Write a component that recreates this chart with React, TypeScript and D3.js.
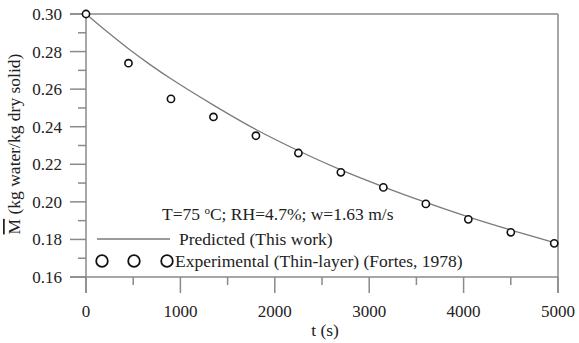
import React from "react";
import * as d3 from "d3";

const expTime = [0, 450, 900, 1350, 1800, 2250, 2700, 3150, 3600, 4050, 4500, 4960];
const expM = [0.3, 0.2738, 0.2548, 0.2452, 0.2352, 0.226, 0.2157, 0.2077, 0.1989, 0.1907, 0.1838, 0.1779];

const predTime = [0, 225, 450, 675, 900, 1350, 1800, 2250, 2700, 3150, 3600, 4050, 4500, 4960];
const predM = [0.3, 0.2905, 0.2815, 0.2732, 0.2655, 0.2515, 0.2385, 0.2272, 0.217, 0.208, 0.1997, 0.192, 0.185, 0.1783];

const xMajor = [0, 1000, 2000, 3000, 4000, 5000];
const xMinor = [500, 1500, 2500, 3500, 4500];
const yMajor = [0.16, 0.18, 0.2, 0.22, 0.24, 0.26, 0.28, 0.3];
const yMinor = [0.17, 0.19, 0.21, 0.23, 0.25, 0.27, 0.29];

const W = 579, H = 343;
const L = 86, R = 558, T = 14, B = 277;

export default function App() {
  const x = d3.scaleLinear().domain([0, 5000]).range([L, R]);
  const y = d3.scaleLinear().domain([0.16, 0.3]).range([B, T]);
  const line = d3.line<number>().x((_, i) => x(predTime[i])).y((d) => y(d)).curve(d3.curveCatmullRom);
  const axisCol = "#8a8a8a";
  const txt = "#222";
  const font = "'Liberation Serif', 'DejaVu Serif', serif";
  return (
    <svg width={W} height={H} style={{ position: "absolute", left: 0, top: 0, background: "#fff", fontFamily: font }}>
      <rect x={0} y={0} width={W} height={H} fill="#fff" />
      <line x1={L - 16} x2={R} y1={T} y2={T} stroke={axisCol} strokeWidth={1.5} />
      <line x1={L - 16} x2={R} y1={B} y2={B} stroke={axisCol} strokeWidth={1.5} />
      <line x1={L} x2={L} y1={T} y2={B + 16} stroke={axisCol} strokeWidth={1.5} />
      <line x1={R} x2={R} y1={T} y2={B + 16} stroke={axisCol} strokeWidth={1.5} />
      {yMajor.map((v) => (
        <g key={"ym" + v}>
          <line x1={L - 16} x2={L} y1={y(v)} y2={y(v)} stroke={axisCol} strokeWidth={1.5} />
          <text x={62} y={y(v) + 6} textAnchor="end" fontSize={17} fill={txt} fontFamily={font}>{v.toFixed(2)}</text>
        </g>
      ))}
      {yMinor.map((v) => (
        <line key={"yn" + v} x1={L - 8} x2={L} y1={y(v)} y2={y(v)} stroke={axisCol} strokeWidth={1.5} />
      ))}
      {xMajor.map((v) => (
        <g key={"xm" + v}>
          <line x1={x(v)} x2={x(v)} y1={B} y2={B + 16} stroke={axisCol} strokeWidth={1.5} />
          <text x={x(v)} y={317} textAnchor="middle" fontSize={17} fill={txt} fontFamily={font}>{v}</text>
        </g>
      ))}
      {xMinor.map((v) => (
        <line key={"xn" + v} x1={x(v)} x2={x(v)} y1={B} y2={B + 8} stroke={axisCol} strokeWidth={1.5} />
      ))}
      <text x={(L + R) / 2 + 3} y={336} textAnchor="middle" fontSize={17.5} fill={txt} fontFamily={font}>t (s)</text>
      <text transform={`translate(20,${144}) rotate(-90)`} textAnchor="middle" fontSize={17.5} fill={txt} fontFamily={font}>
        <tspan style={{ textDecoration: "overline" }}>M</tspan> (kg water/kg dry solid)
      </text>
      <path d={line(predM) || ""} fill="none" stroke="#7a7a7a" strokeWidth={1.3} />
      {expM.map((v, i) => (
        <circle key={"p" + i} cx={x(expTime[i])} cy={y(v)} r={3.6} fill="#fff" stroke="#111" strokeWidth={1.6} />
      ))}
      <text x={162} y={220} fontSize={17.5} fill={txt} fontFamily={font}>
        T=75 <tspan fontSize={11} dy={-6}>o</tspan><tspan dy={6}>C; RH=4.7%; w=1.63 m/s</tspan>
      </text>
      <line x1={97} x2={170} y1={239} y2={239} stroke="#7a7a7a" strokeWidth={1.3} />
      <text x={179} y={245} fontSize={17.5} fill={txt} fontFamily={font}>Predicted (This work)</text>
      {[102, 134, 167].map((cx) => (
        <circle key={"lc" + cx} cx={cx} cy={261} r={5.8} fill="#fff" stroke="#111" strokeWidth={1.8} />
      ))}
      <text x={175} y={267} fontSize={17.5} fill={txt} fontFamily={font}>Experimental (Thin-layer) (Fortes, 1978)</text>
    </svg>
  );
}
